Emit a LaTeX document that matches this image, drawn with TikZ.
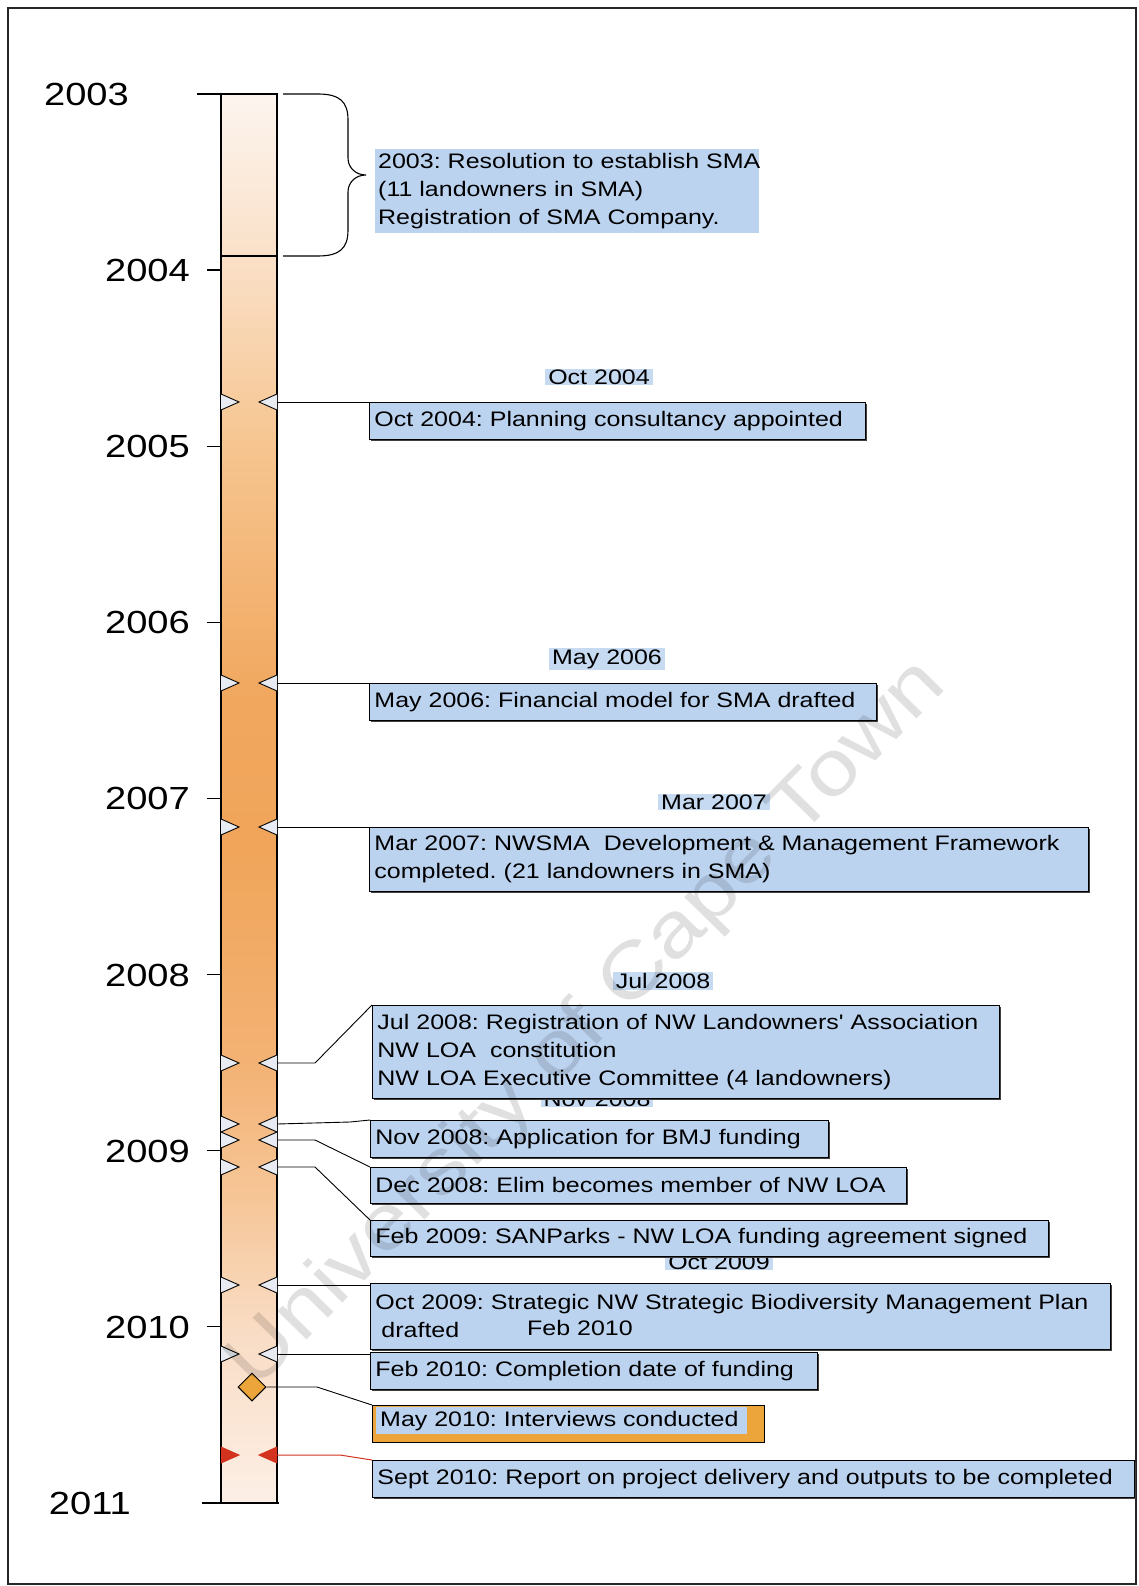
\documentclass[tikz,border=0pt]{standalone}
\usepackage{fontspec}
\setmainfont{Liberation Sans}
\newfontfamily\evfam[FakeStretch=1.19]{Liberation Sans}
\usetikzlibrary{shapes.geometric,shadows}
\newcommand\evfont{\evfam\frenchspacing\fontsize{21}{28}\selectfont}
\newcommand\yrfont{\evfam\fontsize{32}{36}\selectfont}
\definecolor{boxblue}{HTML}{BCD3F0}
\definecolor{lblblue}{HTML}{C6DAF2}
\definecolor{orng}{HTML}{EBA53A}
\definecolor{mkfill}{HTML}{E8ECF2}
\definecolor{redmk}{HTML}{D2321E}
\definecolor{g0}{HTML}{FCF5EF}
\definecolor{g1}{HTML}{FAE0C8}
\definecolor{g2}{HTML}{F6C590}
\definecolor{g3}{HTML}{F1A75E}
\definecolor{g4}{HTML}{F0A55A}
\definecolor{g5}{HTML}{F3B274}
\definecolor{g6}{HTML}{F6C698}
\definecolor{g7}{HTML}{F9DCC4}
\definecolor{g8}{HTML}{FCEFE6}
\newcommand\evmark[3][mkfill]{%
  \filldraw[fill=#1, draw=black, line width=0.9pt] (221,#3-8) -- (239,#3) -- (221,#3+8);
  \filldraw[fill=#1, draw=black, line width=0.9pt] (277,#3-8) -- (259,#3) -- (277,#3+8);
  \coordinate (#2) at (277,#3);}
\newcommand\redmark[2]{%
  \filldraw[fill=redmk, draw=redmk, line width=0.9pt] (221,#2-8) -- (239,#2) -- (221,#2+8);
  \filldraw[fill=redmk, draw=redmk, line width=0.9pt] (277,#2-8) -- (259,#2) -- (277,#2+8);
  \coordinate (#1) at (277,#2);}
\begin{document}
\begin{tikzpicture}[x=1pt,y=-1pt,
  evbox/.style={draw=black, line width=0.9pt, fill=boxblue,
    drop shadow={shadow xshift=2pt, shadow yshift=-2pt, opacity=1, fill=black!75},
    anchor=north west, inner xsep=5pt, inner ysep=0pt, align=left, font=\evfont},
  sbox/.style={fill=boxblue, anchor=north west, inner xsep=3pt, inner ysep=0pt, align=left, font=\evfont},
  lbl/.style={fill=lblblue, inner xsep=3pt, inner ysep=1pt, font=\evfont},
  yr/.style={font=\yrfont, anchor=east, inner sep=0pt},
  conn/.style={draw=black, line width=0.9pt},
  barline/.style={draw=black, line width=1.2pt}]
\useasboundingbox (0,0) rectangle (1138,1586);
\fill[white] (0,0) rectangle (1138,1586);
\draw[line width=2.5pt, black!85] (8,8) rectangle (1136,1584);

% bar gradient
\foreach \ya/\yb/\ca/\cb in {94/256/g0/g1, 256/446/g1/g2, 446/700/g2/g3, 700/850/g3/g4, 850/1063/g4/g5, 1063/1200/g5/g6, 1200/1330/g6/g7, 1330/1503/g7/g8}
  \shade[top color=\ca, bottom color=\cb] (221,\ya-0.5) rectangle (277,\yb+0.5);
\draw[barline] (221,94) rectangle (277,1503);
\draw[barline] (197,94) -- (277,94);
\draw[barline] (202,1503) -- (279,1503);
\draw[barline] (221,256) -- (277,256);
\foreach \k in {1,...,7}
  \draw[barline] (207,{94+176.1*\k}) -- (221,{94+176.1*\k});

% years
\node[yr] (y03) at (129,94) {2003};
\node[yr] (y04) at (190,270) {2004};
\node[yr] (y05) at (190,446) {2005};
\node[yr] (y06) at (190,622) {2006};
\node[yr] (y07) at (190,798) {2007};
\node[yr] (y08) at (190,975) {2008};
\node[yr] (y09) at (190,1151) {2009};
\node[yr] (y10) at (190,1327) {2010};
\node[yr] (y11) at (131,1503) {2011};

% brace
\draw[line width=1.1pt] (283,94) -- (318,94) .. controls (340,94) and (348,102) .. (348,120) -- (348,158)
  .. controls (348,168) and (356,175) .. (366,175) .. controls (356,175) and (348,182) .. (348,192)
  -- (348,230) .. controls (348,248) and (340,256) .. (318,256) -- (283,256);
\node[sbox, minimum width=384, minimum height=84, text width=378] (b03) at (375,149)
  {\mbox{2003: Resolution to establish SMA}\\\mbox{(11 landowners in SMA)}\\\mbox{Registration of SMA Company.}};

% markers
\evmark{mOct04}{402}
\evmark{mMay06}{683}
\evmark{mMar07}{827}
\evmark{mJul08}{1063}
\evmark{mNov08}{1124}
\evmark{mDec08}{1140}
\evmark{mFeb09}{1167}
\evmark{mOct09}{1285}
\evmark{mFeb10}{1354}
\redmark{mSep10}{1455}
\node[diamond, draw=black, line width=1pt, fill=orng, minimum width=28, minimum height=28, inner sep=0pt] (dMay10) at (252,1387) {};

% small date labels (some partly hidden by boxes)
\node[lbl] (lOct04) at (599,377) {Oct 2004};
\node[lbl] (lMay06) at (607,659) {May 2006};
\node[lbl] (lMar07) at (714,802) {Mar 2007};
\node[lbl] (lJul08) at (663,981) {Jul 2008};
\node[lbl] (lNov08) at (597,1099) {Nov 2008};
\node[lbl] (lOct09) at (719,1262) {Oct 2009};

% connectors
\draw[conn] (mOct04) -- (369,402);
\draw[conn] (mMay06) -- (369,683);
\draw[conn] (mMar07) -- (369,827);
\draw[conn] (mOct09) -- (370,1285);
\draw[conn] (mFeb10) -- (370,1354);

% boxes
\node[evbox, minimum width=496, minimum height=37, text width=486] (bOct04) at (369,402)
  {\mbox{Oct 2004: Planning consultancy appointed}};
\node[evbox, minimum width=507, minimum height=37, text width=497] (bMay06) at (369,683)
  {\mbox{May 2006: Financial model for SMA drafted}};
\node[evbox, minimum width=719, minimum height=64, text width=709] (bMar07) at (369,827)
  {\mbox{Mar 2007: NWSMA\ \ Development \& Management Framework}\\\mbox{completed. (21 landowners in SMA)}};
\node[evbox, minimum width=627, minimum height=93, text width=617] (bJul08) at (372,1005)
  {\mbox{Jul 2008: Registration of NW Landowners' Association}\\\mbox{NW LOA\ \ constitution}\\\mbox{NW LOA Executive Committee (4 landowners)}};
\node[evbox, minimum width=458, minimum height=37, text width=448] (bNov08) at (370,1120)
  {\mbox{Nov 2008: Application for BMJ funding}};
\node[evbox, minimum width=536, minimum height=36, text width=526] (bDec08) at (370,1167)
  {\mbox{Dec 2008: Elim becomes member of NW LOA}};
\node[evbox, minimum width=678, minimum height=36, text width=668] (bFeb09) at (370,1220)
  {\mbox{Feb 2009: SANParks - NW LOA funding agreement signed}};
\node[evbox, minimum width=740, minimum height=66, text width=730] (bOct09) at (370,1283)
  {\mbox{Oct 2009: Strategic NW Strategic Biodiversity Management Plan}\\\mbox{\hspace{6pt}drafted}};
\node[evbox, minimum width=447, minimum height=37, text width=437] (bFeb10) at (370,1352)
  {\mbox{Feb 2010: Completion date of funding}};
\node[evbox, minimum width=762, minimum height=37, text width=752] (bSep10) at (372,1460)
  {\mbox{Sept 2010: Report on project delivery and outputs to be completed}};
\node[draw=black, line width=0.9pt, fill=orng, anchor=north west, minimum width=392, minimum height=37, inner sep=0pt] (bMay10) at (372,1405) {};
\fill[boxblue] (376,1407) rectangle (747,1434);
\node[font=\evfont, anchor=west, inner sep=0pt] (tMay10) at (380,1421) {May 2010: Interviews conducted};
\node[lbl, fill=none] (lFeb10) at (580,1328) {Feb 2010};

% angled connectors
\draw[conn] (mJul08) -- (315,1063) -- (bJul08.north west);
\draw[conn] (mNov08) -- (350,1122) -- (bNov08.north west);
\draw[conn] (mDec08) -- (315,1140) -- (bDec08.north west);
\draw[conn] (mFeb09) -- (315,1167) -- (bFeb09.north west);
\draw[conn] (dMay10.east) -- (317,1387) -- (bMay10.north west);
\draw[draw=redmk, line width=1pt] (mSep10) -- (340,1455) -- (bSep10.north west);

% watermark
\node[rotate=45.5, text=black, opacity=0.12, font=\evfam\fontsize{77}{77}\selectfont] (wm) at (588,1025) {University of Cape Town};
\end{tikzpicture}
\end{document}
